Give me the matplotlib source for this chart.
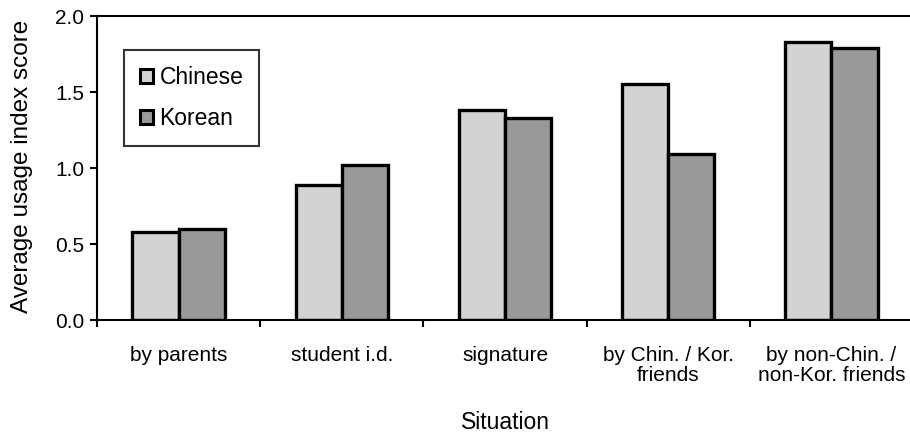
import matplotlib.pyplot as plt
import numpy as np

situations = ["by parents", "student i.d.", "signature",
              "by Chin. / Kor.\nfriends", "by non-Chin. /\nnon-Kor. friends"]
chinese = [0.58, 0.89, 1.38, 1.55, 1.83]
korean = [0.60, 1.02, 1.33, 1.09, 1.79]

plt.rcParams["font.family"] = ["Liberation Sans", "DejaVu Sans"]

fig = plt.figure(figsize=(9.1, 4.38), dpi=100)
ax = fig.add_axes([97 / 910, 1 - 320 / 438, 816 / 910, 304 / 438])

x = np.arange(len(situations))
width = 0.283
ax.bar(x - width / 2, chinese, width, color="#d3d3d3", edgecolor="black",
       linewidth=2.4, label="Chinese")
ax.bar(x + width / 2, korean, width, color="#999999", edgecolor="black",
       linewidth=2.4, label="Korean")

ax.set_xlim(-0.5, len(situations) - 0.5)
ax.set_ylim(0, 2.0)
ax.set_yticks([0, 0.5, 1.0, 1.5, 2.0])
ax.set_yticklabels(["0.0", "0.5", "1.0", "1.5", "2.0"])

ax.set_xticks(x)
ax.set_xticklabels(situations, linespacing=1.05)
ax.set_xticks(np.arange(len(situations)) - 0.5, minor=True)
ax.tick_params(axis="x", which="major", length=0, pad=19, labelsize=15)
ax.tick_params(axis="x", which="minor", length=5, width=1.5, direction="out")
ax.tick_params(axis="y", length=5, width=1.5, direction="out", labelsize=15, pad=4)

for side in ["left", "bottom", "top"]:
    ax.spines[side].set_linewidth(1.5)
ax.spines["right"].set_visible(False)

ax.set_xlabel("Situation", fontsize=16.5)
ax.xaxis.set_label_coords(0.501, -0.30)
ax.set_ylabel("Average usage index score", fontsize=17.5)
ax.yaxis.set_label_coords(-0.079, 0.505)

leg = ax.legend(loc="upper left", bbox_to_anchor=(124 / 910, 1 - 50 / 438),
                bbox_transform=fig.transFigure, fontsize=16.5, frameon=True,
                fancybox=False, edgecolor="black", handlelength=0.55,
                handleheight=0.55, handletextpad=0.3, borderpad=0.7,
                labelspacing=0.78, borderaxespad=0)
leg.get_frame().set_linewidth(1.5)
for h in leg.legend_handles:
    h.set_linewidth(2.2)

fig.savefig("out.png", dpi=100)
